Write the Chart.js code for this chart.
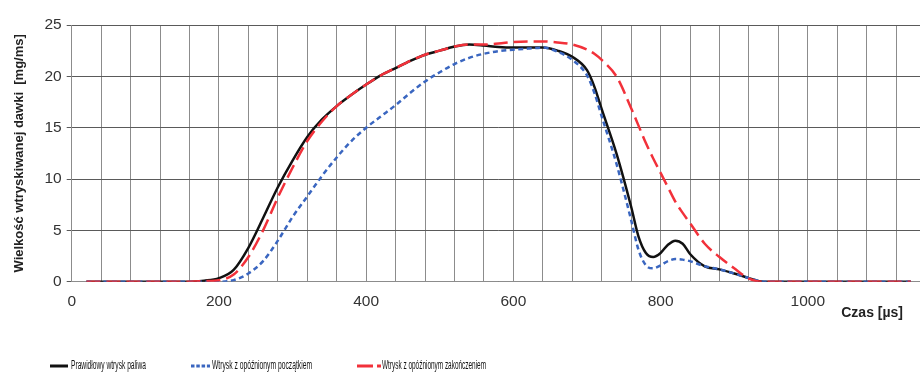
<!DOCTYPE html>
<html>
<head>
<meta charset="utf-8">
<script src="https://cdn.jsdelivr.net/npm/chart.js@4"></script>
<style>
  body { margin: 0; overflow: hidden; background: #fff; }
  #wrap { width: 940px; height: 372px; }
</style>
</head>
<body>
<div id="wrap"><canvas id="chart" width="940" height="372"></canvas></div>
<script>
// time axis [µs]
const czas = [20, 40, 60, 80, 100, 120, 140, 160, 180, 200, 220, 240, 260, 280, 300, 320, 340, 360, 380, 400,
  420, 440, 460, 480, 500, 520, 540, 560, 580, 600, 620, 640, 660, 680, 700, 710, 720, 740, 760, 770, 780,
  790, 800, 810, 820, 830, 840, 860, 880, 900, 920, 940, 960, 980, 1000, 1020, 1040, 1060, 1080, 1100, 1120, 1140];

// series values [mg/ms]
const prawidlowy = [0, 0, 0, 0, 0, 0, 0, 0, 0.1, 0.35, 1.15, 3.3, 6.2, 9.2, 11.8, 14.1, 15.8, 17.1, 18.2, 19.2,
  20.1, 20.8, 21.5, 22.1, 22.5, 22.9, 23.1, 23.0, 22.85, 22.8, 22.8, 22.8, 22.5, 21.9, 20.6, 19.0, 16.8, 12.5, 7.3, 4.4, 2.8,
  2.4, 2.8, 3.6, 4.0, 3.7, 2.7, 1.5, 1.2, 0.8, 0.35, 0, 0, 0, 0, 0, 0, 0, 0, 0, 0, 0];

const opoznionyPoczatek = [0, 0, 0, 0, 0, 0, 0, 0, 0, 0, 0.15, 0.8, 2.0, 4.0, 6.3, 8.3, 10.3, 12.1, 13.7, 15.0,
  16.1, 17.2, 18.4, 19.5, 20.4, 21.2, 21.8, 22.2, 22.45, 22.6, 22.7, 22.8, 22.4, 21.6, 20.1, 18.4, 16.1, 11.5, 6.0, 3.1, 1.6,
  1.3, 1.6, 2.0, 2.2, 2.15, 2.0, 1.5, 1.2, 0.8, 0.35, 0, 0, 0, 0, 0, 0, 0, 0, 0, 0, 0];

const opoznioneZakonczenie = [0, 0, 0, 0, 0, 0, 0, 0, 0.05, 0.15, 0.7, 2.4, 5.0, 8.2, 11.1, 13.7, 15.6, 17.1, 18.2, 19.2,
  20.1, 20.8, 21.5, 22.1, 22.5, 22.9, 23.1, 23.1, 23.2, 23.35, 23.4, 23.4, 23.3, 23.1, 22.6, 22.2, 21.6, 20.0, 16.9, 15.2, 13.5,
  12.0, 10.6, 9.2, 7.8, 6.7, 5.7, 3.7, 2.4, 1.3, 0.3, 0, 0, 0, 0, 0, 0, 0, 0, 0, 0, 0];

const seriesNames = ["Prawidłowy wtrysk paliwa", "Wtrysk z opóźnionym początkiem", "Wtrysk z opóźnionym zakończeniem"];
const seriesColors = ["#111111", "#3a66c0", "#f2313a"];

const FONT = '"Liberation Sans", Arial, sans-serif';

function toPoints(vals) {
  return vals.map((v, i) => ({ x: czas[i], y: v }));
}

// legend + x axis title drawn by hand (narrow legend font, title sits at right)
const extrasPlugin = {
  id: "extras",
  afterDraw(chart) {
    const ctx = chart.ctx;
    ctx.save();
    ctx.font = "bold 14px " + FONT;
    ctx.fillStyle = "#222";
    ctx.textAlign = "right";
    ctx.textBaseline = "middle";
    ctx.fillText("Czas [µs]", 903, 313);

    const items = [
      { x0: 50, x1: 68, tx: 71, tw: 75, dash: [] },
      { x0: 191, x1: 210, tx: 212, tw: 100, dash: [3.5, 1.8] },
      { x0: 357, x1: 381, tx: 382, tw: 104, dash: [16, 4] },
    ];
    const ly = 366;
    items.forEach((it, i) => {
      ctx.beginPath();
      ctx.setLineDash(it.dash);
      ctx.strokeStyle = seriesColors[i];
      ctx.lineWidth = 3;
      ctx.moveTo(it.x0, ly);
      ctx.lineTo(it.x1, ly);
      ctx.stroke();
      ctx.setLineDash([]);

      ctx.font = "12.5px " + FONT;
      ctx.fillStyle = "#111";
      ctx.textAlign = "left";
      const w = ctx.measureText(seriesNames[i]).width;
      ctx.save();
      ctx.translate(it.tx, ly);
      ctx.scale(it.tw / w, 1);
      ctx.fillText(seriesNames[i], 0, 0);
      ctx.restore();
    });
    ctx.restore();
  },
};

new Chart(document.getElementById("chart"), {
  type: "line",
  data: {
    datasets: [
      {
        label: seriesNames[0],
        data: toPoints(prawidlowy),
        borderColor: seriesColors[0],
        borderWidth: 2.5,
        order: 3,
      },
      {
        label: seriesNames[1],
        data: toPoints(opoznionyPoczatek),
        borderColor: seriesColors[1],
        borderWidth: 2.5,
        borderDash: [5, 3.5],
        order: 2,
      },
      {
        label: seriesNames[2],
        data: toPoints(opoznioneZakonczenie),
        borderColor: seriesColors[2],
        borderWidth: 2.5,
        borderDash: [14, 6],
        order: 1,
      },
    ],
  },
  options: {
    responsive: false,
    animation: false,
    events: [],
    elements: {
      point: { radius: 0 },
      line: { cubicInterpolationMode: "monotone", fill: false },
    },
    layout: { padding: { left: 0, right: 14.4, top: 25, bottom: 0 } },
    plugins: {
      legend: { display: false },
      tooltip: { enabled: false },
    },
    scales: {
      x: {
        type: "linear",
        min: 0,
        max: 1160,
        afterFit(scale) {
          scale.height = 90.3;
        },
        ticks: {
          stepSize: 40,
          autoSkip: false,
          maxRotation: 0,
          padding: 11,
          color: "#333",
          font: { family: FONT, size: 15.5 },
          callback: (v) => (v % 200 === 0 ? String(v) : ""),
        },
        grid: { color: "#8c8c8c", lineWidth: 1, drawTicks: false },
        border: { color: "#8c8c8c" },
      },
      y: {
        min: 0,
        max: 25,
        afterFit(scale) {
          scale.width = 71.7;
        },
        ticks: {
          stepSize: 5,
          padding: 5,
          color: "#333",
          font: { family: FONT, size: 15.5 },
        },
        grid: { color: "#5a5a5a", lineWidth: 1, tickLength: 5 },
        border: { color: "#8c8c8c" },
        title: {
          display: true,
          text: "Wielkość wtryskiwanej dawki  [mg/ms]",
          color: "#222",
          padding: { top: 12, bottom: 0 },
          font: { family: FONT, size: 13, weight: "bold" },
        },
      },
    },
  },
  plugins: [extrasPlugin],
});
</script>
</body>
</html>
